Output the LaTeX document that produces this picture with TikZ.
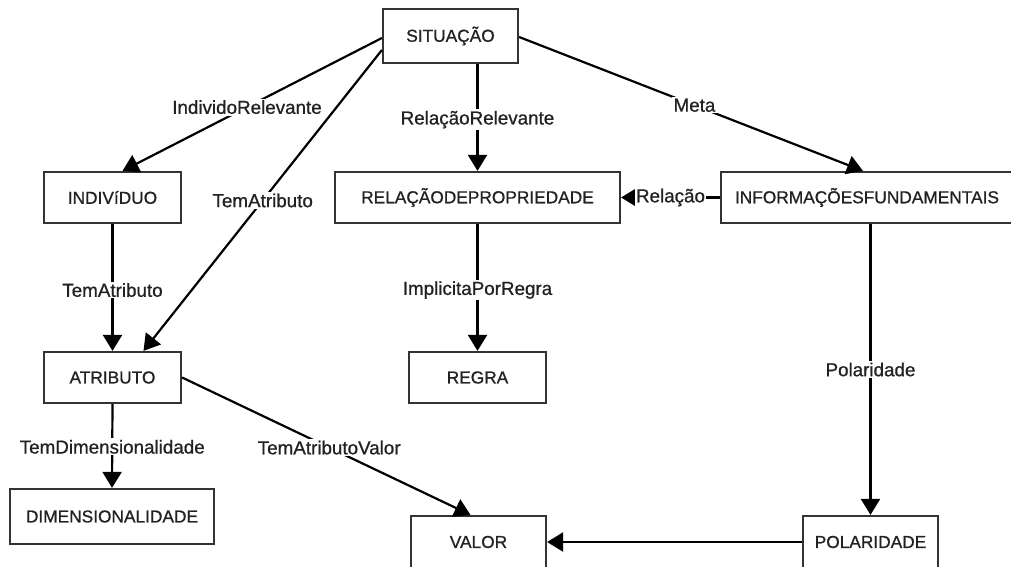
\documentclass[tikz,border=0pt]{standalone}
\usepackage{fontspec}
\setmainfont{Liberation Sans}
\newfontfamily\diagfont[FakeBold=0.8]{Liberation Sans}
\usetikzlibrary{arrows.meta,calc}
\definecolor{txt}{HTML}{222222}
\definecolor{bord}{HTML}{333333}
\begin{document}
\begin{tikzpicture}[x=1pt,y=-1pt,
  box/.style={draw=bord,line width=2.2pt,rectangle,inner sep=0pt,text=txt,
    font=\diagfont\fontsize{17.3}{20}\selectfont},
  edge/.style={line width=2.2pt,draw=black,-{Triangle[length=16pt,width=19pt]}},
  lbl/.style={fill=white,inner sep=1.5pt,text=txt,font=\diagfont\fontsize{18.8}{21}\selectfont}]
\useasboundingbox[fill=white] (0,0) rectangle (1011,567);
% nodes
\node[box,minimum width=135pt,minimum height=54pt] (sit) at (450.5,36) {SITUAÇÃO};
\node[box,minimum width=137pt,minimum height=51pt] (indiv) at (112.5,197.5) {INDIVíDUO};
\node[box,minimum width=285pt,minimum height=51pt] (relprop) at (477.5,197.5) {RELAÇÃODEPROPRIEDADE};
\node[box,minimum width=292pt,minimum height=51pt] (info) at (867,197.5) {INFORMAÇÕESFUNDAMENTAIS};
\node[box,minimum width=137pt,minimum height=51pt] (atrib) at (112.5,377.5) {ATRIBUTO};
\node[box,minimum width=137pt,minimum height=51pt] (regra) at (477.5,377.5) {REGRA};
\node[box,minimum width=204pt,minimum height=55pt] (dim) at (112,516.5) {DIMENSIONALIDADE};
\node[box,minimum width=135pt,minimum height=52pt] (valor) at (478.5,542) {VALOR};
\node[box,minimum width=135pt,minimum height=52pt] (pol) at (870.5,542) {POLARIDADE};
% edges
\draw[edge] ($(sit.west)+(0,2)$) -- node[lbl,pos=0.52] {IndividoRelevante} ($(indiv.north)+(10,0)$);
\draw[edge] ($(sit.west)+(0,14)$) -- node[lbl,pos=0.5] {TemAtributo} ($(atrib.north)+(31,0)$);
\draw[edge] (relprop.north |- sit.south) -- node[lbl,pos=0.52] {RelaçãoRelevante} (relprop.north);
\draw[edge] ($(sit.east)+(0,1)$) -- node[lbl,pos=0.51] {Meta} ($(info.north)+(-4,0)$);
\draw[edge] (info.west) -- node[lbl,pos=0.5] {Relação} (relprop.east);
\draw[edge] (indiv.south) -- node[lbl,pos=0.52] {TemAtributo} (atrib.north);
\draw[edge] (relprop.south) -- node[lbl,pos=0.52] {ImplicitaPorRegra} (regra.north);
\draw[edge] (atrib.south) -- node[lbl,pos=0.51] {TemDimensionalidade} (dim.north);
\draw[edge] (atrib.east) -- node[lbl,pos=0.51] {TemAtributoValor} ($(valor.north)+(-8,0)$);
\draw[edge] (pol.north |- info.south) -- node[lbl,pos=0.5] {Polaridade} (pol.north);
\draw[edge] (pol.west) -- (valor.east);
\end{tikzpicture}
\end{document}
